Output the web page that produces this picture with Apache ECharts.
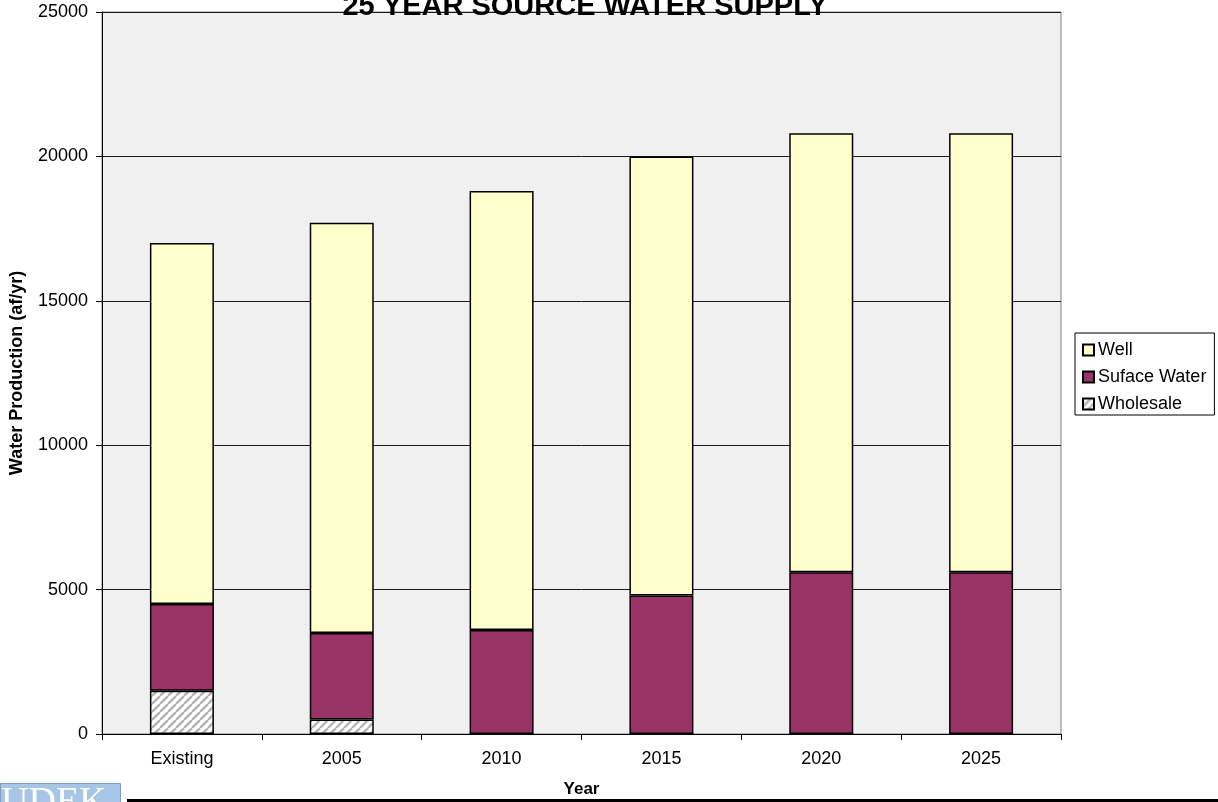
<!DOCTYPE html>
<html>
<head>
<meta charset="utf-8">
<script src="https://cdn.jsdelivr.net/npm/echarts@6/dist/echarts.min.js"></script>
<style>
  html, body { margin: 0; padding: 0; background: #fff; }
  #chart { width: 1218px; height: 802px; }
</style>
</head>
<body>
<div id="chart"></div>
<script>
// Source water supply by year (af/yr), stacked bottom-to-top: wholesale, surface water, well
const categories = ['Existing', '2005', '2010', '2015', '2020', '2025'];
const wholesale = [1500, 500, 0, 0, 0, 0];
const surfaceWater = [3000, 3000, 3600, 4800, 5600, 5600];
const well = [12500, 14200, 15200, 15200, 15200, 15200];
const yTicks = [0, 5000, 10000, 15000, 20000, 25000];

const FONT = '"Liberation Sans", Arial, sans-serif';

// Diagonal hatch tile for the wholesale segments
function hatchTile() {
  const c = document.createElement('canvas');
  c.width = 8; c.height = 8;
  const g = c.getContext('2d');
  g.fillStyle = '#ffffff';
  g.fillRect(0, 0, 8, 8);
  g.strokeStyle = '#b4b4b4';
  g.lineWidth = 2.4;
  for (const o of [-8, 0, 8]) {
    g.beginPath();
    g.moveTo(o, 8);
    g.lineTo(o + 8, 0);
    g.stroke();
  }
  return c;
}

const chart = echarts.init(document.getElementById('chart'), null, { renderer: 'canvas' });

const barStyle = (color) => ({ color: color, borderColor: '#000', borderWidth: 1.5 });

chart.setOption({
  animation: false,
  backgroundColor: '#ffffff',
  title: {
    text: '25 YEAR SOURCE WATER SUPPLY',
    left: 580,
    top: -13,
    textAlign: 'center',
    textStyle: { fontFamily: FONT, fontSize: 29, fontWeight: 'bold', color: '#000' }
  },
  grid: {
    left: 102, top: 12, right: 157, bottom: 68,
    outerBoundsMode: 'none',
    containLabel: false,
    show: true,
    backgroundColor: '#f0f0f0',
    borderColor: '#808080',
    borderWidth: 1
  },
  legend: {
    orient: 'vertical',
    left: 1075,
    top: 333,
    data: ['Well', 'Suface Water', 'Wholesale'],
    icon: 'rect',
    itemWidth: 11,
    itemHeight: 11,
    itemGap: 9,
    padding: [8, 8, 2, 7],
    borderColor: '#000',
    borderWidth: 1,
    backgroundColor: '#fff',
    textStyle: { fontFamily: FONT, fontSize: 18, color: '#000', padding: [0, 0, 0, -1] }
  },
  xAxis: {
    type: 'category',
    data: categories,
    boundaryGap: true,
    name: 'Year',
    nameLocation: 'middle',
    nameGap: 47,
    nameTextStyle: { fontFamily: FONT, fontSize: 17, fontWeight: 'bold', color: '#000' },
    axisLine: { lineStyle: { color: '#000', width: 1 } },
    axisTick: { show: true, length: 6, lineStyle: { color: '#000' } },
    axisLabel: { fontFamily: FONT, fontSize: 18, color: '#000', margin: 16 },
    splitLine: { show: false }
  },
  yAxis: {
    type: 'value',
    min: yTicks[0],
    max: yTicks[yTicks.length - 1],
    interval: yTicks[1] - yTicks[0],
    name: 'Water Production (af/yr)',
    nameLocation: 'middle',
    nameGap: 76,
    nameTextStyle: { fontFamily: FONT, fontSize: 18, fontWeight: 'bold', color: '#000' },
    axisLine: { show: true, lineStyle: { color: '#000', width: 1 } },
    axisTick: { show: true, length: 6, lineStyle: { color: '#000' } },
    axisLabel: {
      fontFamily: FONT, fontSize: 18, color: '#000', margin: 14,
      formatter: (v) => String(v)
    },
    splitLine: { show: true, lineStyle: { color: '#1a1a1a', width: 1 } }
  },
  series: [
    {
      name: 'Wholesale', type: 'bar', stack: 'supply', barWidth: 64,
      data: wholesale,
      itemStyle: barStyle({ image: hatchTile(), repeat: 'repeat' })
    },
    {
      name: 'Suface Water', type: 'bar', stack: 'supply', barWidth: 64,
      data: surfaceWater,
      itemStyle: barStyle('#993366')
    },
    {
      name: 'Well', type: 'bar', stack: 'supply', barWidth: 64,
      data: well,
      itemStyle: barStyle('#ffffcc')
    }
  ],
  graphic: [
    // footer logo block and rule
    {
      type: 'rect', left: 0, top: 783, z: 10,
      shape: { width: 120, height: 19 },
      style: { fill: '#a7c6e6', stroke: '#7f9fc0', lineWidth: 1 }
    },
    {
      type: 'text', left: 1, top: 784, z: 11,
      style: { text: 'UDEK', fill: '#ffffff', font: '38px "Liberation Serif", "Times New Roman", serif' }
    },
    {
      type: 'rect', left: 127, top: 799, z: 10,
      shape: { width: 1091, height: 3 },
      style: { fill: '#000' }
    }
  ]
});
</script>
</body>
</html>
